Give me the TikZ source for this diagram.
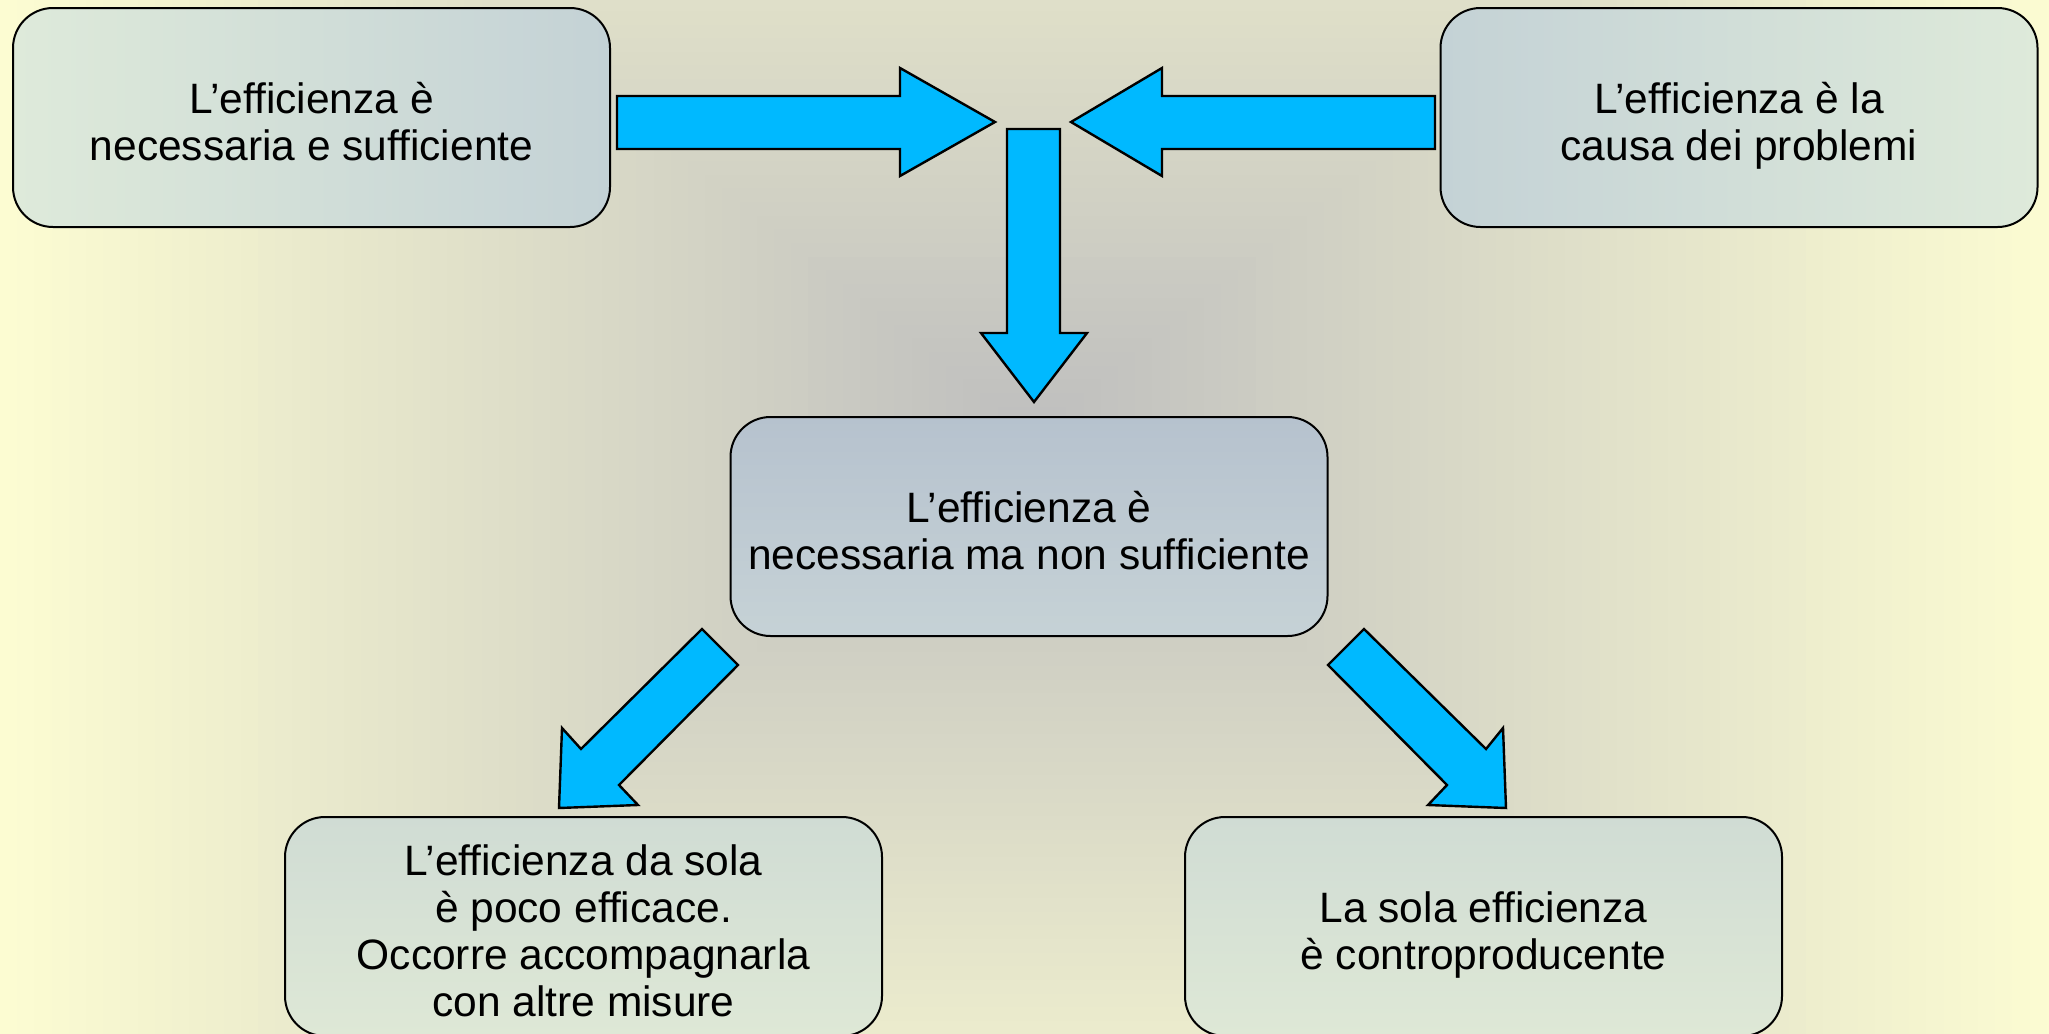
\documentclass[tikz,border=0pt]{standalone}
\usepackage{fontspec}
\setmainfont{Liberation Sans}
\begin{document}
\begin{tikzpicture}[x=0.5pt,y=-0.5pt]
\definecolor{bgedge}{RGB}{252,252,210}
\definecolor{bgmid}{RGB}{190,190,190}
\definecolor{arrowblue}{RGB}{0,185,255}
\definecolor{boxgreen}{RGB}{222,234,218}
\definecolor{boxblue}{RGB}{196,210,214}
\definecolor{midtop}{RGB}{182,194,206}
\definecolor{midbot}{RGB}{198,210,214}
\definecolor{lowtop}{RGB}{208,220,212}
\definecolor{lowbot}{RGB}{222,232,214}
\tikzset{
  box/.style={draw=black, line width=1pt, rounded corners=20pt,
    minimum width=298.5pt, minimum height=109.5pt, align=center,
    inner sep=0pt, font=\fontsize{21.25}{23.5}\selectfont,
    text depth=0pt},
  twolines/.style={text height=43.2pt},
  fourlines/.style={text height=90.2pt},
  blockarrow/.style={fill=arrowblue, draw=black, line width=1.2pt, line join=miter}
}
\useasboundingbox (0,0) rectangle (2049,1033);
\begin{scope}
\clip (0,0) rectangle (2049,1033);
\fill[bgedge] (0,0) rectangle (2049,1033);
\foreach \i in {0,...,60}{
  \pgfmathsetmacro\t{1-\i/60}
  \pgfmathsetmacro\p{100*(1-\t)}
  \fill[bgmid!\p!bgedge] ({1032-\t*1032},{434-\t*819}) rectangle ({1032+\t*1032},{434+\t*819});
}
\end{scope}

\node[box, twolines, left color=boxgreen, right color=boxblue] (tl) at (311.5,117.5) {L’efficienza è\\necessaria e sufficiente};
\node[box, twolines, left color=boxblue, right color=boxgreen] (tr) at (1739,117.5) {L’efficienza è la\\causa dei problemi};
\node[box, twolines, top color=midtop, bottom color=midbot] (mid) at (1029,526.5) {L’efficienza è\\necessaria ma non sufficiente};
\node[box, fourlines, top color=lowtop, bottom color=lowbot] (bl) at (583.5,926.5) {L’efficienza da sola\\è poco efficace.\\Occorre accompagnarla\\con altre misure};
\node[box, twolines, top color=lowtop, bottom color=lowbot] (br) at (1483.5,926.5) {La sola efficienza\\è controproducente};

\draw[blockarrow] (617,96) -- (900,96) -- (900,68) -- (995,122) -- (900,176) -- (900,149) -- (617,149) -- cycle;
\draw[blockarrow] (1435,96) -- (1162,96) -- (1162,68) -- (1071,122) -- (1162,176) -- (1162,149) -- (1435,149) -- cycle;
\draw[blockarrow] (1007,129) -- (1060,129) -- (1060,333) -- (1087,333) -- (1034,402) -- (981,333) -- (1007,333) -- cycle;
\draw[blockarrow] (702,629) -- (738,665) -- (619,785) -- (638,805) -- (559,808) -- (562,728) -- (581,749) -- cycle;
\draw[blockarrow] (1364,629) -- (1486,749) -- (1503,728) -- (1506,808) -- (1428,805) -- (1447,785) -- (1328,665) -- cycle;
\end{tikzpicture}
\end{document}
